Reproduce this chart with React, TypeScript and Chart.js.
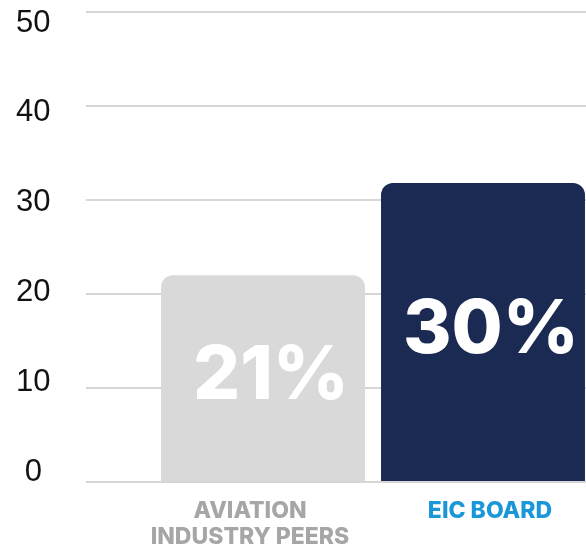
import React, { useEffect, useRef } from "react";
import { Chart, registerables } from "chart.js";

Chart.register(...registerables);

const categories: (string | string[])[] = [["AVIATION", "INDUSTRY PEERS"], "EIC BOARD"];
const values = [22, 31.8];
const valueLabels = ["21%", "30%"];
const barColors = ["#d9d9d9", "#1b2a53"];
const categoryColors = ["#a6a6a6", "#1a97d8"];
const gridTicks = [0, 10, 20, 30, 40, 50];
const tickLabels = [0, 10, 20, 30, 40, 50];
const categoryTickPositions = [0, 1];

const HEAVY_FONT = "Inter";

const valueLabelPlugin = {
  id: "valueLabels",
  afterDatasetsDraw(chart: any) {
    const meta = chart.getDatasetMeta(0);
    const ctx = chart.ctx;
    ctx.save();
    ctx.font = `800 74px ${HEAVY_FONT}`;
    ctx.fillStyle = "#ffffff";
    ctx.textAlign = "center";
    ctx.textBaseline = "middle";
    meta.data.forEach((bar: any, i: number) => {
      const cy = (bar.y + bar.base) / 2 - 1;
      ctx.fillText(valueLabels[i], bar.x + 8, cy);
    });
    ctx.restore();
  },
};

export default function App() {
  const ref = useRef<HTMLCanvasElement | null>(null);
  useEffect(() => {
    let chart: Chart | null = null;
    let cancelled = false;
    const make = () => {
      if (cancelled || !ref.current) return;
      chart = new Chart(ref.current, {
        type: "bar",
        data: {
          labels: categories as any,
          datasets: [
            {
              data: values,
              backgroundColor: barColors,
              borderRadius: 12,
              borderSkipped: "bottom",
              categoryPercentage: 1,
              barPercentage: 0.927,
              xAxisID: "x",
              yAxisID: "y",
            },
          ],
        },
        options: {
          animation: false,
          responsive: false,
          devicePixelRatio: 1,
          layout: { padding: { left: 16, top: 12, right: 0, bottom: 0 } },
          plugins: { legend: { display: false }, tooltip: { enabled: false } },
          scales: {
            x: {
              display: false,
            },
            x2: {
              type: "linear",
              position: "bottom",
              offset: false,
              beginAtZero: false,
              min: -0.404,
              max: 1.429,
              afterBuildTicks: (axis: any) => {
                axis.ticks = categoryTickPositions.map((v) => ({ value: v }));
              },
              grid: { display: false, drawTicks: false, offset: false },
              border: { display: false },
              afterFit: (axis: any) => {
                axis.height = 65;
                axis.paddingLeft = 0;
                axis.paddingRight = 0;
              },
              ticks: {
                autoSkip: false,
                maxRotation: 0,
                padding: 16,
                callback: (v: any) => categories[Math.round(Number(v))] as any,
                font: { family: HEAVY_FONT, size: 23, weight: 800 as any, lineHeight: "26px" as any },
                color: (c: any) => categoryColors[c.index] || "#a6a6a6",
              },
            },
            y: {
              min: 0,
              max: 50,
              weight: 0,
              afterBuildTicks: (axis: any) => {
                axis.ticks = gridTicks.map((v) => ({ value: v }));
              },
              afterFit: (axis: any) => {
                axis.width = 67;
                axis.paddingTop = 0;
                axis.paddingBottom = 0;
              },
              ticks: { display: false },
              border: { display: false },
              grid: {
                color: "#d6d6d6",
                lineWidth: 2,
                drawTicks: true,
                tickLength: 67,
              },
            },
            y2: {
              type: "linear",
              position: "left",
              weight: 1,
              min: -1.057,
              max: 51.22,
              afterBuildTicks: (axis: any) => {
                axis.ticks = tickLabels.map((v) => ({ value: v }));
              },
              afterFit: (axis: any) => {
                axis.width = 70;
                axis.paddingTop = 0;
                axis.paddingBottom = 0;
              },
              border: { display: false },
              grid: { display: false, drawTicks: false },
              ticks: {
                crossAlign: "center",
                padding: 35.5,
                color: "#111111",
                font: { family: "Liberation Sans", size: 31, lineHeight: 0.5 },
              },
            },
          },
        },
        plugins: [valueLabelPlugin],
      });
    };
    const fonts: any = (document as any).fonts;
    if (fonts && fonts.load) {
      Promise.all([
        fonts.load(`800 23px ${HEAVY_FONT}`),
        fonts.load(`800 74px ${HEAVY_FONT}`),
        fonts.load(`31px "Liberation Sans"`),
      ])
        .catch(() => null)
        .then(make);
    } else {
      make();
    }
    return () => {
      cancelled = true;
      if (chart) chart.destroy();
    };
  }, []);

  return (
    <div style={{ position: "absolute", left: 0, top: 0, width: 586, height: 547, overflow: "hidden", background: "#ffffff" }}>
      <canvas ref={ref} width={593} height={547} style={{ display: "block", width: 593, height: 547 }} />
    </div>
  );
}
